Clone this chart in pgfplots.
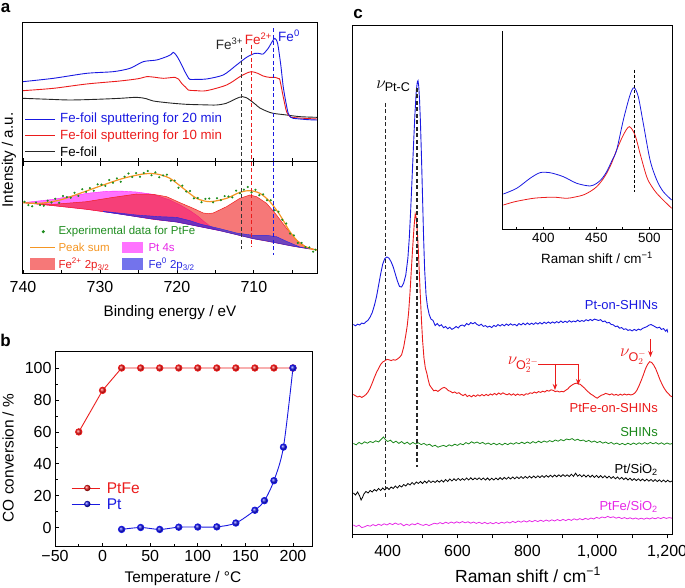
\documentclass[border=0pt]{standalone}
\usepackage{fontspec}
\setmainfont{Liberation Sans}
\usepackage{amsmath}
\usepackage{pgfplots}
\pgfplotsset{compat=1.18}
\usetikzlibrary{arrows.meta}
\definecolor{cblue}{RGB}{25,25,225}
\definecolor{cred}{RGB}{235,28,28}
\definecolor{cgreen}{RGB}{25,135,25}
\definecolor{cmag}{RGB}{230,40,230}
\definecolor{corange}{RGB}{245,150,35}
\definecolor{dotgreen}{RGB}{30,140,30}
\definecolor{fpt}{RGB}{255,0,255}
\definecolor{ffe}{RGB}{240,30,30}
\definecolor{ffez}{RGB}{40,40,225}
\newcommand{\fs}[1]{\fontsize{#1}{#1}\selectfont}
\pgfplotsset{
  base/.style={scale only axis, anchor=south west,
    axis line style={line width=1pt},
    every tick/.style={black, line width=0.8pt},
    /pgf/number format/assume math mode=true,
    tick label style={font=\fs{16}},
    ytick=\empty},
}
\begin{document}
\begin{tikzpicture}[x=1pt,y=1pt]
\useasboundingbox (0,0) rectangle (685,588);

%================ Panel a (upper) ================
\begin{axis}[base, at={(23pt,426pt)}, width=294pt, height=139pt,
  xmin=701.8, xmax=740, x dir=reverse, ymin=0, ymax=417,
  xtick={710,720,730,740}, minor xtick={705,715,725,735}, xticklabels={},
  xtick pos=bottom, tick align=inside, major tick length=4pt, minor tick length=4pt]
\addplot[black!85, line width=0.9pt, smooth, tension=0.5] coordinates {
(740,191)(736.5,188)(733.9,186)(730.5,188)(727.4,191)(725.24,194)(724.0,190)(723.07,183)(720.9,177)(718.74,173)(716.5,171.5)(714.85,171)(713.6,176)(712.68,186)(711.9,194)(711.47,196)(711.0,193)(710.52,186)(709.8,173)(709.22,162)(708.3,152)(707.49,146)(705.76,141)(704.03,136)(701.8,134)};
\addplot[cred, line width=0.9pt, smooth, tension=0.5] coordinates {
(740,214)(736.06,221)(731.73,234)(727.40,243)(725.0,250)(723.94,256)(722.8,254)(721.77,251)(720.26,254)(719.8,249)(719.39,236)(718.9,225)(718.53,216)(717.5,214)(716.15,214)(713.55,231)(711.82,256)(711.0,266)(710.30,271)(709.5,266)(708.79,258)(708.0,254)(707.27,254)(706.8,250)(706.62,246)(706.19,196)(705.76,151)(705.4,139)(705.11,134)(703.5,131)(701.8,129)};
\addplot[cblue, line width=0.9pt, smooth, tension=0.45] coordinates {
(740,241)(736.06,251)(731.73,266)(728.27,271)(726.10,281)(724.37,301)(722.64,306)(721.34,316)(720.8,322)(720.48,329)(720.15,322)(719.83,311)(719.4,292)(718.96,271)(718.6,256)(718.31,248)(717.2,248)(716.15,249)(713.98,261)(712.25,291)(710.95,314)(709.87,326)(709.2,325)(708.79,324)(708.14,341)(707.6,362)(707.27,371)(707.0,362)(706.84,346)(706.5,290)(706.19,226)(705.85,180)(705.54,146)(705.2,134)(704.89,131)(703.0,127)(701.8,126)};
\draw[black!80, dash pattern=on 4pt off 2.5pt, line width=1pt] (axis cs:711.6,341) -- (axis cs:711.6,0);
\draw[cred, dash pattern=on 4pt off 2.5pt, line width=1pt] (axis cs:710.3,351) -- (axis cs:710.3,0);
\draw[cblue, dash pattern=on 4pt off 2.5pt, line width=1pt] (axis cs:707.5,401) -- (axis cs:707.5,0);
\end{axis}

%================ Panel a (lower) ================
\begin{axis}[base, at={(23pt,314pt)}, width=294pt, height=112pt,
  xmin=701.8, xmax=740, x dir=reverse, ymin=0, ymax=336,
  xtick={710,720,730,740}, minor xtick={705,715,725,735},
  xticklabels={710,720,730,740},
  xtick pos=both, xticklabel pos=bottom, tick align=inside, major tick length=4pt, minor tick length=4pt,
  xticklabel style={yshift=-4pt}]
% Pt 4s
\addplot[fill=fpt, fill opacity=0.55, draw=fpt, draw opacity=0.8, line width=0.4pt] coordinates {
(740,214)(736.06,224)(731.73,242)(729.13,248)(727.40,249)(725.24,246)(723.07,239)(720.91,222)(719.5,206)(718.3,190)(717.3,174)(716.5,158)(715.6,142)(714.42,130)
(717.01,142)(720.04,156)(723.07,164)(727.40,180)(731.73,194)(736.06,205)(740,214)} -- cycle;
% Fe2+
\addplot[fill=ffe, fill opacity=0.6, draw=ffe, line width=0.5pt] coordinates {
(740,214)(736.06,209)(731.73,217)(728.27,230)(725.24,240)(723.07,239)(721.34,232)(719.61,214)(717.88,197)(716.58,183)(715.9,181)(715.28,183)(713.55,202)(711.82,227)(710.52,237)(709.65,232)(708.35,212)(707.06,177)(705.76,137)(704.46,102)(703.16,80)(701.8,72)
(702.73,75)(704.89,83)(707.49,95)(710.09,106)(712.25,118)(714.42,130)(717.01,142)(720.04,156)(723.07,164)(727.40,180)(731.73,194)(736.06,205)(740,214)} -- cycle;
% Fe0
\addplot[fill=ffez, fill opacity=0.65, draw=ffez, line width=0.4pt] coordinates {
(729.57,188)(725.24,177)(722.21,172)(720.04,170)(718.31,160)(717.01,150)(714.42,136)(712.25,123)(710.09,116)(708.35,116)(707.06,112)(705.76,98)(704.03,81)(702.73,75)
(704.03,80)(705.76,87)(707.06,93)(708.35,99)(710.09,106)(712.25,118)(714.42,130)(717.01,142)(718.31,148)(720.04,156)(722.21,162)(725.24,172)(729.57,187)} -- cycle;
% experimental data
\addplot[only marks, mark=*, mark size=0.85pt, dotgreen] coordinates {
(739.8,216.8)(739.3,206.4)(738.8,202.9)(738.3,214.5)(737.8,207)(737.3,204.9)(736.8,219.8)(736.3,214.7)(735.8,225.7)(735.3,213.6)(734.8,234)(734.3,230.9)(733.8,228.8)(733.3,243.6)(732.8,234.5)(732.3,254.5)(731.8,246.6)(731.3,257.7)(730.8,249.9)(730.3,269)(729.8,268.1)(729.3,264.1)(728.8,282)(728.3,273.8)(727.8,286.6)(727.3,276.5)(726.8,291.9)(726.3,301.4)(725.8,290.9)(725.3,302.4)(724.8,291.9)(724.3,303)(723.8,309)(723.3,296)(722.8,305)(722.3,290.4)(721.8,295.7)(721.3,297.9)(720.8,280.1)(720.3,280.4)(719.8,258.8)(719.3,265.1)(718.8,247.4)(718.3,248.7)(717.8,227.1)(717.3,228.1)(716.8,215.3)(716.3,225.4)(715.8,226.5)(715.3,214.9)(714.8,227.2)(714.3,221.5)(713.8,233.8)(713.3,232.6)(712.8,229.8)(712.3,250)(711.8,242.1)(711.3,253)(710.8,260.9)(710.3,244.6)(709.8,252.6)(709.3,236.5)(708.8,238.9)(708.3,221.3)(707.8,221.3)(707.3,190.9)(706.8,186.5)(706.3,162.7)(705.8,151.5)(705.3,121.3)(704.8,115.9)(704.3,93.3)(703.8,93.3)(703.3,80.6)(702.8,79.8)(702.3,67)(702.0,73)};
\addplot[corange, line width=1.2pt, smooth, tension=0.5] coordinates {
(740,214)(737.79,212)(735.19,222)(732.60,242)(729.57,267)(726.97,287)(724.37,300)(722.64,300)(720.91,287)(719.18,257)(717.45,227)(715.71,217)(713.55,227)(711.82,245)(710.52,250)(709.22,242)(707.92,217)(706.62,177)(705.32,127)(704.03,92)(702.73,77)(701.8,72)};
\draw[black!80, dash pattern=on 4pt off 2.5pt, line width=1pt] (axis cs:711.6,336) -- (axis cs:711.6,75);
\draw[cred, dash pattern=on 4pt off 2.5pt, line width=1pt] (axis cs:710.3,336) -- (axis cs:710.3,82);
\draw[cblue, dash pattern=on 4pt off 2.5pt, line width=1pt] (axis cs:707.5,336) -- (axis cs:707.5,57);
\end{axis}

% panel a legends
\draw[cblue, line width=1pt] (25,468.7) -- (55,468.7);
\node[anchor=west, text=cblue, font=\fs{13.3}, inner sep=0] at (60,468.7) {Fe-foil sputtering for 20 min};
\draw[cred, line width=1pt] (25,452) -- (55,452);
\node[anchor=west, text=cred, font=\fs{13.3}, inner sep=0] at (60,452) {Fe-foil sputtering for 10 min};
\draw[black!85, line width=1pt] (25,436.3) -- (55,436.3);
\node[anchor=west, text=black, font=\fs{13.3}, inner sep=0] at (60,436.3) {Fe-foil};
\node[text=black!85, font=\fs{13.5}, inner sep=0] at (229.5,544) {Fe\textsuperscript{3+}};
\node[text=cred, font=\fs{13.5}, inner sep=0] at (258.5,549.5) {Fe\textsuperscript{2+}};
\node[text=cblue, font=\fs{13.5}, inner sep=0] at (289,552) {Fe\textsuperscript{0}};

\fill[dotgreen] (43.3,356.3) circle (1.7);
\node[anchor=west, text=dotgreen, font=\fs{11.5}, inner sep=0] at (58.3,356.3) {Experimental data for PtFe};
\draw[corange, line width=1.2pt] (30,340.7) -- (55,340.7);
\node[anchor=west, text=corange, font=\fs{11.5}, inner sep=0] at (58.3,340.7) {Peak sum};
\fill[fpt!55] (121.7,334.7) rectangle (143.3,346.3);
\node[anchor=west, text=cmag, font=\fs{11.5}, inner sep=0] at (148.3,340.5) {Pt 4s};
\fill[ffe!60] (30,318) rectangle (55,330);
\node[anchor=west, text=cred, font=\fs{11.5}, inner sep=0] at (58.3,323.5) {Fe\textsuperscript{2+} 2p\textsubscript{3/2}};
\fill[ffez!65] (121.7,318) rectangle (143.3,330);
\node[anchor=west, text=ffez, font=\fs{11.5}, inner sep=0] at (148.3,323.5) {Fe\textsuperscript{0} 2p\textsubscript{3/2}};

\node[font=\fs{15.2}, inner sep=0] at (170,275) {Binding energy / eV};
\node[font=\fs{15.2}, inner sep=0, rotate=90] at (9,428) {Intensity / a.u.};
\node[font=\bfseries\fs{17}, inner sep=0] at (5.5,580) {a};

%================ Panel b ================
\begin{axis}[base, at={(55pt,41pt)}, width=257pt, height=195pt,
  xmin=-50, xmax=220, ymin=-12, ymax=110,
  xtick={-50,0,50,100,150,200}, xticklabels={−50,0,50,100,150,200},
  ytick={0,20,40,60,80,100}, minor xtick={-25,25,75,125,175}, minor ytick={10,30,50,70,90},
  tick align=inside, tick pos=left, major tick length=4pt, minor tick length=2.5pt]
\addplot[cred, line width=0.9pt, mark=ball, mark size=3.2pt, mark options={ball color=cred}] coordinates {
(-25,60)(0,86)(20,100)(40,100)(60,100)(80,100)(100,100)(120,100)(140,100)(160,100)(180,100)(200,100)};
\addplot[cblue, line width=0.9pt, smooth, tension=0.5, mark=ball, mark size=3.2pt, mark options={ball color=cblue}] coordinates {
(20,-1)(40,0.2)(60,-1)(80,0.4)(100,0.5)(120,0.6)(140,3)(160,11)(170,17)(180,29.5)(190,50.5)(200,100)};
\end{axis}
\draw[cred, line width=0.9pt] (71.7,100) -- (100,100);
\shade[ball color=cred] (87.3,100) circle (3.2);
\node[anchor=west, text=cred, font=\fs{15.5}, inner sep=0] at (106.7,100) {PtFe};
\draw[cblue, line width=0.9pt] (71.7,84) -- (100,84);
\shade[ball color=cblue] (87.3,84) circle (3.2);
\node[anchor=west, text=cblue, font=\fs{15.5}, inner sep=0] at (106.7,84) {Pt};
\node[font=\fs{15.4}, inner sep=0] at (183,9) {Temperature / °C};
\node[font=\fs{15.4}, inner sep=0, rotate=90] at (8,130) {CO conversion / \%};
\node[font=\bfseries\fs{17}, inner sep=0] at (5.5,248) {b};

%================ Panel c ================
\begin{axis}[base, at={(352.7pt,53.7pt)}, width=319.6pt, height=508.3pt,
  xmin=300, xmax=1215, ymin=53.7, ymax=562,
  xtick={400,600,800,1000,1200}, xticklabels={400,600,800,{1,000},{1,200}},
  minor xtick={300,500,700,900,1100},
  xtick pos=bottom, tick align=outside, major tick length=4pt, minor tick length=4pt,
  xticklabel style={yshift=-3pt}]
% PtFe/SiO2
\addplot[cmag, line width=0.8pt] coordinates {
(302,63)(310,61.5)(318,62.8)(326,60.4)(334,61.2)(342,62.6)(350,61.8)(358,63.4)(366,62.2)(374,63.8)(382,62.6)(390,64.2)(398,63)(406,64.6)(414,63.4)(422,65)(430,63.6)(438,64.4)(446,62.2)(454,63.8)(462,62.6)(470,64.2)(478,63.2)(486,64.8)(494,63.4)(502,62.6)(510,63.8)(518,62.4)(526,63.6)(534,64.8)(542,64)(550,65.4)(558,64.2)(566,65.8)(574,64.6)(582,66)(590,64.8)(598,66.2)(606,65)(614,66.4)(622,65.2)(630,66.2)(638,64.8)(646,66)(654,64.6)(662,65.8)(670,64.4)(678,65.6)(686,64.2)(694,65.4)(702,64.2)(710,65.6)(718,64.4)(726,65.8)(734,64.8)(742,66.2)(750,65)(758,66.6)(766,65.4)(774,67)(782,65.8)(790,67.2)(798,66)(806,67.4)(814,66.2)(822,67.6)(830,66.4)(838,67.8)(846,66.6)(854,68)(862,66.8)(870,68.2)(878,67)(886,68.4)(894,67.2)(902,68.6)(910,67.4)(918,68.8)(926,67.6)(934,69.2)(942,68)(950,69.4)(958,68.2)(966,69.6)(974,68.6)(982,70)(990,69)(998,70.6)(1006,69.6)(1014,71)(1022,70.2)(1030,71.6)(1038,70.4)(1046,71.2)(1054,69.8)(1062,70.8)(1070,69.4)(1078,70.4)(1086,69.2)(1094,70.2)(1102,69)(1110,70)(1118,68.8)(1126,69.8)(1134,68.8)(1142,70)(1150,69)(1158,70.2)(1166,69.2)(1174,70.4)(1182,69.4)(1190,70.6)(1198,69.6)(1206,70.4)(1214,69.8)};
% Pt/SiO2
\addplot[black, line width=0.8pt] coordinates {
(302,95)(308,93)(314,96)(320,92)(324,88)(328,90.5)(332,94)(338,96.5)(344,95)(350,97.5)(356,96)(362,98.5)(368,97)(374,99.5)(380,97.5)(386,100)(392,98)(398,100.5)(404,98.5)(410,101)(416,99.5)(422,102)(428,100)(434,102.5)(440,101)(446,103.5)(452,102)(458,104.5)(464,103)(470,105.5)(476,103.5)(482,106)(488,104.5)(494,106.5)(500,104.5)(506,107)(512,105)(518,107.5)(524,105.5)(530,107)(536,105.5)(542,107.5)(548,105.8)(554,107.8)(560,106)(566,108.5)(572,106.5)(578,109)(584,107)(590,109.2)(596,107.4)(602,109.6)(608,107.6)(614,109.4)(620,107.8)(626,110)(632,108)(638,110.2)(644,108.2)(650,110)(656,108.4)(662,110.2)(668,108.2)(674,110)(680,108)(686,110)(692,107.8)(698,109.8)(704,108)(710,110)(716,108.2)(722,110.4)(728,108.4)(734,110.6)(740,108.8)(746,110.8)(752,109)(758,111)(764,109.2)(770,111.2)(776,109.4)(782,111.4)(788,109.6)(794,111.6)(800,109.8)(806,111.8)(812,110)(818,112)(824,110.2)(830,112.2)(836,110.4)(842,112.4)(848,110.6)(854,112.6)(860,110.8)(866,112.8)(872,111)(878,113)(884,111.2)(890,113.2)(896,111.4)(902,113.4)(908,111.6)(914,113.2)(920,111.4)(926,113.8)(932,111.6)(938,114.8)(944,111.8)(950,113.4)(956,111.2)(962,113.2)(968,111)(974,113)(980,110.8)(986,112.8)(992,110.6)(998,112.6)(1004,110.4)(1010,112.4)(1016,110.2)(1022,112.2)(1028,110)(1034,111.8)(1040,109.6)(1046,111.4)(1052,109.2)(1058,111)(1064,108.8)(1070,110.6)(1076,108.4)(1082,110.2)(1088,108)(1094,109.8)(1100,107.6)(1106,109.4)(1112,107.4)(1118,109.2)(1124,107.2)(1130,109)(1136,107)(1142,108.8)(1148,106.8)(1154,108.6)(1160,106.6)(1166,108.4)(1172,106.4)(1178,108.2)(1184,106.2)(1190,108)(1196,106)(1202,107.8)(1208,106)(1214,107)};
% SHINs
\addplot[cgreen, line width=0.8pt] coordinates {
(302,144.5)(310,143.2)(318,145.6)(326,144)(334,146.2)(342,144.8)(350,146.5)(358,145.4)(366,147.2)(374,146)(382,148.8)(388,151)(394,148.2)(400,146.5)(408,147.8)(416,145.2)(424,146.8)(432,144.6)(440,146.4)(448,144.2)(456,145.8)(464,143.6)(472,145.6)(480,144)(488,145.2)(496,143.4)(504,144.6)(512,142.8)(520,143.8)(528,141.6)(536,142.8)(544,140.8)(552,141.8)(560,142.6)(568,141.4)(576,143.2)(584,142)(592,143.8)(600,142.6)(608,144.4)(616,143.2)(624,145.4)(632,144)(640,146.2)(648,144.8)(656,146)(664,144.4)(672,145.6)(680,143.8)(688,145)(696,143.4)(704,144.8)(712,143.2)(720,144.6)(728,143)(736,144.8)(744,143.4)(752,145)(760,143.8)(768,145.4)(776,144.2)(784,145.8)(792,144.4)(800,146)(808,144.6)(816,146.4)(824,145)(832,146.8)(840,145.4)(848,147)(856,145.8)(864,147.4)(872,146.2)(880,148)(888,146.8)(896,148.4)(904,147.2)(912,149)(920,148.2)(928,149.4)(936,147.6)(944,148.8)(952,147.2)(960,148)(968,146.4)(976,147.6)(984,145.8)(992,147)(1000,145.4)(1008,146.6)(1016,144.8)(1024,146)(1032,144.4)(1040,145.6)(1048,143.8)(1056,145)(1064,143.4)(1072,144.6)(1080,143.2)(1088,144.8)(1096,143.4)(1104,145)(1112,143.6)(1120,145.2)(1128,143.8)(1136,145.4)(1144,144)(1152,145.6)(1160,144.2)(1168,145.4)(1176,143.8)(1184,145.2)(1192,143.6)(1200,145)(1208,143.8)(1214,144.4)};
% PtFe-on-SHINs
\addplot[cred, line width=0.9pt] coordinates {
(302,193.5)(308,192.2)(314,191)(320,191.8)(326,190.6)(332,191.8)(338,193.5)(344,196)(350,200)(356,205)(362,210.5)(368,215.5)(374,219.5)(380,223.5)(386,226)(392,227.2)(398,228.6)(404,228.2)(410,227.4)(416,228.3)(422,227.8)(428,229)(434,230.6)(440,233.2)(446,241)(452,253)(456,262)(460,275)(464,295)(468,319)(472,342)(476,363)(479,374)(482,370)(485,357)(488,337)(491,313)(494,289)(497,267)(500,248)(504,230)(508,220)(512,215)(516,208.5)(520,203)(526,200)(532,197.2)(538,197.8)(544,196.6)(550,198.2)(556,199.8)(562,200.6)(568,199.5)(574,197.4)(580,196.6)(586,195.2)(592,196)(598,194.6)(604,195.3)(610,193.6)(616,192.4)(622,193.8)(628,191.5)(634,192.6)(640,191.2)(646,192.8)(652,191.6)(658,193.2)(664,192)(670,193.5)(676,192.2)(682,193.6)(688,192.4)(694,194)(700,193)(706,194.6)(712,193.2)(718,195)(724,193.6)(730,195.2)(736,194)(742,193.2)(748,194.4)(754,192.8)(760,194.2)(766,192.6)(772,194)(778,192.8)(784,193.6)(790,192.6)(796,194.2)(802,193.8)(808,195.2)(814,194.6)(820,196)(826,195)(832,196.4)(838,195.6)(844,196.8)(850,196)(856,197.6)(862,196.8)(868,198.2)(874,197.6)(880,196.4)(886,197)(892,196)(898,196.6)(904,196.2)(910,197.8)(916,199.2)(922,201.4)(928,203)(934,204.2)(940,204.8)(946,204.2)(952,203.6)(958,201.6)(964,199.8)(970,197.4)(976,195.6)(982,193.8)(988,192.6)(994,191)(1000,189.8)(1006,191.4)(1012,192.8)(1018,193.4)(1024,194.6)(1030,194)(1036,193.2)(1042,194.2)(1048,192.8)(1054,193.6)(1060,192.6)(1066,193.8)(1072,192.8)(1078,194)(1084,193)(1090,193.8)(1096,193)(1102,193.6)(1108,195)(1114,198)(1120,202.5)(1126,207.5)(1132,213)(1138,219)(1144,223.5)(1150,226.3)(1156,225.5)(1162,222.8)(1168,218.8)(1174,213.5)(1180,208)(1186,203.5)(1192,199.5)(1198,196.5)(1204,194.2)(1210,192)(1214,191.3)};
% Pt-on-SHINs
\addplot[cblue, line width=0.9pt] coordinates {
(302,263.5)(308,262.2)(314,263.8)(320,263)(326,264.9)(332,264.3)(338,266.2)(344,267.8)(350,271)(356,275.5)(362,282.5)(368,291)(374,302.5)(380,314)(386,324)(392,329.5)(398,331)(404,329.8)(410,326.2)(416,321)(422,314)(428,307)(434,301.5)(440,301)(446,305)(452,313)(458,330)(462,350)(466,378)(470,410)(474,442)(478,473)(482,497)(485,506)(487,507.3)(489,502)(491.4,488)(494,465)(497,430)(500,390)(503,350)(506,318)(510,293)(514,281.5)(519,273.5)(524,269)(530,267.5)(536,262.5)(542,264.5)(548,262)(554,263.2)(560,260.3)(566,261.5)(572,259.2)(578,260.8)(584,258.6)(590,259.8)(596,261.5)(602,260)(608,262.3)(614,263)(620,261.8)(626,264.5)(632,263.2)(638,265.4)(644,264.2)(650,265.5)(656,263.5)(662,262.4)(668,263.8)(674,261.6)(680,262.4)(686,260.8)(692,261.8)(698,260.4)(704,262.6)(710,261.5)(716,263.4)(722,262)(728,263.6)(734,262.2)(740,264)(746,262.6)(752,264.2)(758,262.8)(764,263.7)(770,262.2)(776,264.4)(782,263)(788,264.8)(794,263.2)(800,265)(806,263.4)(812,264.8)(818,263.6)(824,265.3)(830,263.9)(836,265.5)(842,264)(848,265.8)(854,264.5)(860,266)(866,264.6)(872,266.1)(878,264.9)(884,266.4)(890,265.2)(896,267)(902,265.4)(908,266.8)(914,265.6)(920,267.3)(926,265.9)(932,267)(938,266.2)(944,267.8)(950,266.4)(956,267.5)(962,266.6)(968,268.3)(974,267.2)(980,268.6)(986,267.4)(992,268.9)(998,268.2)(1004,267.5)(1010,268.4)(1016,266.3)(1022,267)(1028,265)(1034,265.6)(1040,263.5)(1046,263.2)(1052,261.4)(1058,261.9)(1064,259.8)(1070,260.4)(1076,258.6)(1082,259.2)(1088,257.6)(1094,258.3)(1100,257.1)(1106,258.6)(1112,257.4)(1118,258.9)(1124,258)(1130,259.6)(1136,260.5)(1142,261.3)(1148,262.8)(1154,263.5)(1160,262.4)(1166,261.2)(1172,260)(1178,260.8)(1184,258.6)(1190,259.4)(1196,256.8)(1200,258.5)(1202,255.5)};
\draw[black!85, dash pattern=on 4pt off 2.5pt, line width=1.1pt] (axis cs:393.4,485) -- (axis cs:393.4,90);
\draw[black!85, dash pattern=on 4pt off 2.5pt, line width=1.1pt] (axis cs:484,500) -- (axis cs:484,121);
\draw[cred, line width=0.8pt] (axis cs:830.6,224) -- (axis cs:945.7,224);
\draw[cred, line width=0.8pt, -{Stealth[length=6pt,width=4.5pt]}] (axis cs:879.1,224) -- (axis cs:879.1,198);
\draw[cred, line width=0.8pt, -{Stealth[length=6pt,width=4.5pt]}] (axis cs:945.7,224) -- (axis cs:945.7,203);
\draw[cred, line width=0.8pt, -{Stealth[length=6pt,width=4.5pt]}] (axis cs:1152.6,249) -- (axis cs:1152.6,231);
\end{axis}

% Inset
\begin{axis}[base, at={(502.3pt,358pt)}, width=170pt, height=199.3pt,
  xmin=361.3, xmax=521.7, ymin=358, ymax=557.3,
  axis x line=bottom, axis y line=left, axis line style={-, line width=1pt},
  xtick={400,450,500}, minor xtick={375,425,475},
  tick align=inside, major tick length=3pt, minor tick length=2.5pt,
  tick label style={font=\fs{13.4}}]
\addplot[cred, line width=0.8pt, smooth, tension=0.5] coordinates {
(362.3,383)(372,386)(381.1,388)(390,389.6)(396.9,390.3)(410,390.8)(422.1,389.7)(430,391)(437.7,393)(445,397)(450.4,401.3)(455,407)(459.8,414.7)(464.5,425)(469.2,438)(475.5,453)(481.1,461.3)(486.5,453)(491.2,434.7)(497.5,411.3)(502,402)(507,394.7)(514,387)(521.1,379.7)};
\addplot[cblue, line width=0.8pt, smooth, tension=0.5] coordinates {
(362.3,394)(374.9,399.7)(387.5,409.7)(396.9,415.3)(406.3,415.3)(418.9,411.3)(431.5,404.7)(444.1,402)(450.4,404.7)(455,409)(459.8,416.3)(465,428)(469.2,438)(475.5,468)(481.8,493)(485.6,500.3)(489.6,491.3)(494.3,464.7)(500.7,428)(507,408)(513.2,396.3)(521.1,388)};
\draw[black, densely dashed, line width=1pt] (axis cs:485.8,518) -- (axis cs:485.8,396.3);
\end{axis}
\node[font=\fs{13.4}, inner sep=0] at (597,330) {Raman shift / cm\textsuperscript{−1}};

% panel c labels
\node[anchor=east, text=cblue, font=\fs{13}, inner sep=0] at (658,283) {Pt-on-SHINs};
\node[anchor=east, text=cred, font=\fs{13}, inner sep=0] at (658,179.7) {PtFe-on-SHINs};
\node[anchor=east, text=cgreen, font=\fs{13}, inner sep=0] at (658,156.3) {SHINs};
\node[anchor=east, text=black, font=\fs{13}, inner sep=0] at (658,118) {Pt/SiO\textsubscript{2}};
\node[anchor=east, text=cmag, font=\fs{13}, inner sep=0] at (658,81) {PtFe/SiO\textsubscript{2}};
\node[font=\fs{18}, inner sep=0] at (393.5,501.5) {$\nu_{\text{Pt-C}}$};
\node[anchor=east, text=cred, font=\fs{18}, inner sep=0] at (539,223) {$\nu_{\text{O}_2^{2-}}$};
\node[anchor=west, text=cred, font=\fs{18}, inner sep=0] at (620,231) {$\nu_{\text{O}_2^{-}}$};
\node[font=\fs{17.5}, inner sep=0] at (528,13) {Raman shift / cm\textsuperscript{−1}};
\node[font=\bfseries\fs{17}, inner sep=0] at (358,574) {c};
\end{tikzpicture}
\end{document}
